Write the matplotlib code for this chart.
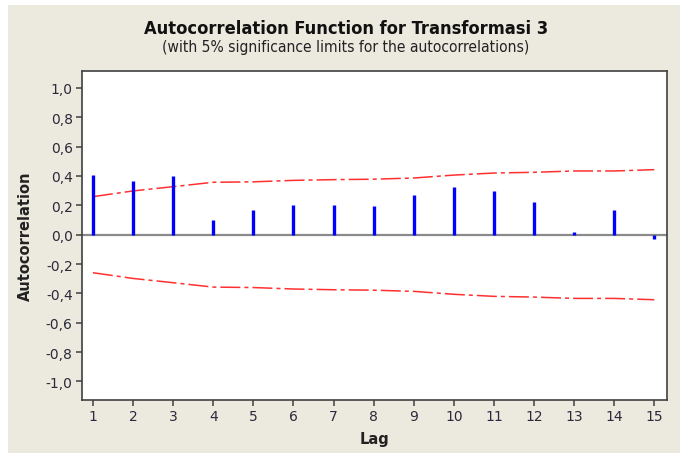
import matplotlib
matplotlib.use("Agg")
import matplotlib.pyplot as plt
from matplotlib.patches import Rectangle
from matplotlib import font_manager as fm

lags = list(range(1, 16))
acf_values = [0.409, 0.368, 0.402, 0.100, 0.166, 0.204, 0.204, 0.197,
              0.270, 0.322, 0.300, 0.222, 0.020, 0.166, -0.030]
sig_limit = [0.259, 0.298, 0.327, 0.357, 0.360, 0.370, 0.375, 0.378,
             0.386, 0.406, 0.420, 0.425, 0.434, 0.434, 0.443]
y_ticks = [-1.0, -0.8, -0.6, -0.4, -0.2, 0.0, 0.2, 0.4, 0.6, 0.8, 1.0]
y_tick_labels = ["-1,0", "-0,8", "-0,6", "-0,4", "-0,2", "0,0",
                 "0,2", "0,4", "0,6", "0,8", "1,0"]
title = "Autocorrelation Function for Transformasi 3"
subtitle = "(with 5% significance limits for the autocorrelations)"

plt.rcParams['font.family'] = ['DejaVu Sans']
plt.rcParams['lines.scale_dashes'] = False

names = {f.name for f in fm.fontManager.ttflist}
cond = 'DejaVu Sans Condensed' if 'DejaVu Sans Condensed' in names else 'DejaVu Sans'
cond_stretch = 'condensed'

W, H = 680, 456
fig = plt.figure(figsize=(W / 100, H / 100), dpi=100, facecolor='white')
bg = '#ECE9DF'
fig.patches.append(Rectangle((8 / W, 2 / H), 1 - 8 / W, 1 - 8 / H,
                             transform=fig.transFigure, facecolor=bg,
                             edgecolor='none', zorder=-10))

ax = fig.add_axes([81.7 / W, 1 - 400.7 / H, (666.7 - 81.7) / W, (400.7 - 72) / H])
ax.set_facecolor('white')

ax.axhline(0, color='#8a8a8a', lw=1.6, zorder=1)
ax.vlines(lags, 0, acf_values, colors='#0000FF', lw=2.4, zorder=3)
neg = [-v for v in sig_limit]
dash = (0, (14.4, 2.9, 2.9, 2.9))
ax.plot(lags, sig_limit, color='#FF3030', lw=1.1, linestyle=dash, zorder=2)
ax.plot(lags, neg, color='#FF3030', lw=1.1, linestyle=dash, zorder=2)

ax.set_xlim(0.72, 15.31)
ax.set_ylim(-1.124, 1.115)
ax.set_xticks(lags)
ax.set_xticklabels([str(l) for l in lags])
ax.set_yticks(y_ticks)
ax.set_yticklabels(y_tick_labels)

for s in ax.spines.values():
    s.set_color('#404040')
    s.set_linewidth(1.2)
ax.tick_params(axis='both', direction='out', length=4.5, width=1.1,
               color='#404040', labelsize=10, labelcolor='#2a2a3a', pad=2)

ax.set_xlabel('Lag', fontsize=10.5, fontweight='bold', color='#222222', labelpad=6)
ax.set_ylabel('Autocorrelation', fontsize=10.5, fontweight='bold', color='#222222', labelpad=9)

t1 = fig.text((145 + 548) / 2 / W, 1 - 29 / H, title, ha='center', va='center',
              fontsize=13, fontweight='bold', color='#111111',
              family=cond, fontstretch=cond_stretch)
t2 = fig.text((163 + 528) / 2 / W, 1 - 47.5 / H, subtitle, ha='center', va='center',
              fontsize=10, color='#222222', family=cond, fontstretch=cond_stretch)

# fit title widths to reference
fig.canvas.draw()
r = fig.canvas.get_renderer()
for t, target in ((t1, 403), (t2, 365)):
    w = t.get_window_extent(r).width
    t.set_fontsize(t.get_fontsize() * target / w)

fig.savefig('out.png', dpi=100, facecolor=fig.get_facecolor())
